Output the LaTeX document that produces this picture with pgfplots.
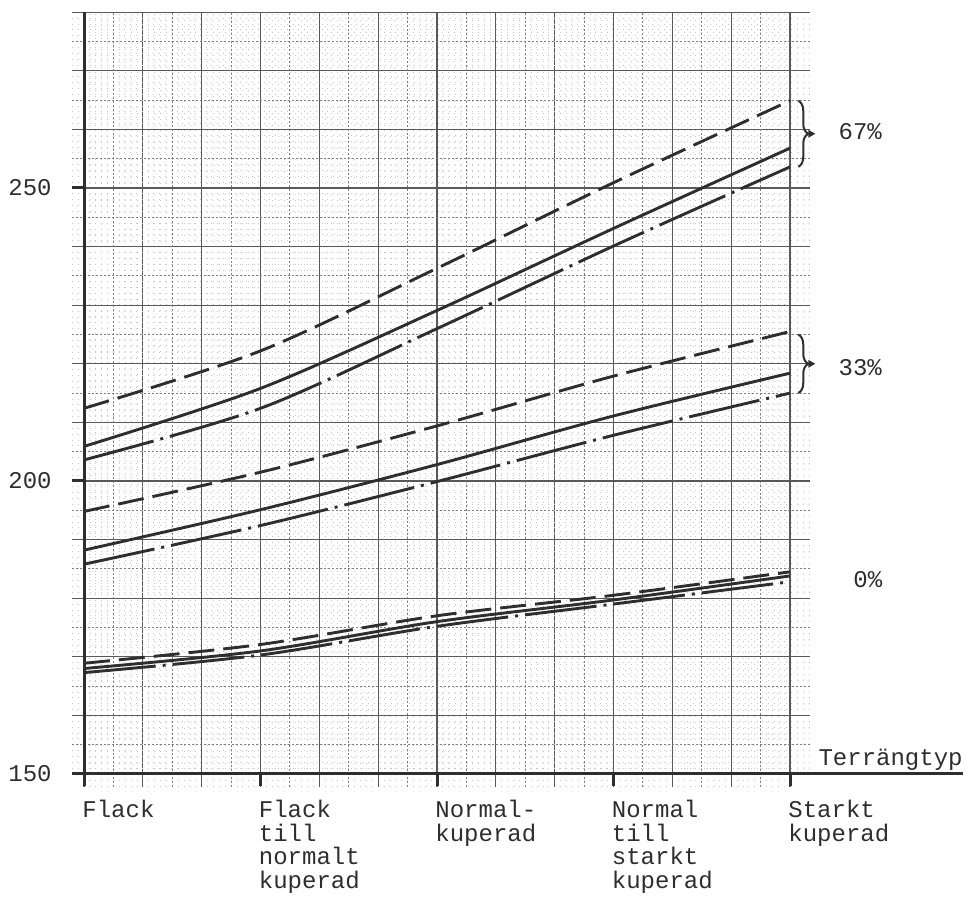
\documentclass[border=0pt]{standalone}
\usepackage{fontspec}
\setmainfont{Liberation Mono}
\usepackage{pgfplots}
\pgfplotsset{compat=1.18}
\usetikzlibrary{decorations.pathreplacing,arrows.meta}
\definecolor{ink}{HTML}{2E2E2E}
\newcommand{\lblfont}{\fontsize{12}{11.8}\selectfont}
\begin{document}
\begin{tikzpicture}
\useasboundingbox (-42pt,-61.5pt) rectangle (441.5pt,387pt);
% ---------- graph paper ----------
\begin{axis}[
  at={(-5.883pt,-6.446pt)}, anchor=south west,
  x=29.417pt, y=2.93pt,
  xmin=-0.2, xmax=12.34, ymin=147.8, ymax=280,
  enlargelimits=false,
  axis line style={draw=none},
  xtick={0,1,...,12}, ytick={150,160,...,280},
  minor x tick num=9, minor y tick num=9,
  xticklabels={}, yticklabels={},
  major tick length=0pt, minor tick length=0pt,
  grid=both,
  major grid style={black!65, line width=0.55pt},
  minor grid style={black!22, line width=0.4pt, dash pattern=on 0.5pt off 2.4pt},
  extra x ticks={0.5,1.5,...,11.5},
  extra y ticks={155,165,...,275},
  extra x tick labels={}, extra y tick labels={},
  extra tick style={grid=major, major tick length=0pt,
     major grid style={black!50, line width=0.5pt, dash pattern=on 0.7pt off 1.3pt}},
]
\end{axis}
% ---------- data ----------
\begin{axis}[
  at={(0pt,0pt)}, anchor=south west,
  x=29.417pt, y=2.93pt,
  xmin=0, xmax=14.94, ymin=150, ymax=280,
  enlargelimits=false,
  clip=false,
  axis x line=bottom, axis y line=left,
  axis line style={-, line width=1.5pt, ink},
  xtick={0,3,6,9,12},
  xticklabels={Flack, Flack\\till\\normalt\\kuperad, Normal-\\kuperad, Normal\\till\\starkt\\kuperad, Starkt\\kuperad},
  ytick={150,200,250},
  minor tick num=0,
  tick align=outside,
  major tick length=6pt,
  tick style={line width=1.5pt, ink},
  /pgf/number format/assume math mode=true,
  tick label style={font=\lblfont, text=ink},
  xticklabel style={anchor=north west, align=left, inner sep=0pt, yshift=-7pt, xshift=-1pt},
  yticklabel style={anchor=east, inner sep=0pt, xshift=-10pt},
  every axis plot/.append style={line width=1.45pt, ink, no marks, smooth},
]
% 0 %
\addplot[dash pattern=on 13pt off 4.5pt] coordinates {(0,168.9) (3,172.1) (6,177.0) (9,180.5) (12,184.5)};
\addplot[] coordinates {(0,168.0) (3,171.0) (6,176.0) (9,179.7) (12,183.8)};
\addplot[dash pattern=on 36pt off 3.5pt on 1.5pt off 3.5pt] coordinates {(0,167.3) (3,170.3) (6,175.2) (9,179.0) (12,182.8)};
% 33 %
\addplot[dash pattern=on 13pt off 4.5pt] coordinates {(0,194.8) (3,201.5) (6,209.4) (9,217.9) (12,225.5)};
\addplot[] coordinates {(0,188.2) (3,195.1) (6,202.8) (9,211.1) (12,218.4)};
\addplot[dash pattern=on 36pt off 3.5pt on 1.5pt off 3.5pt] coordinates {(0,185.8) (3,192.4) (6,199.9) (9,207.8) (12,215.0)};
% 67 %
\addplot[dash pattern=on 13pt off 4.5pt] coordinates {(0,212.4) (3,222.2) (6,236.3) (9,250.9) (12,264.9)};
\addplot[] coordinates {(0,205.9) (3,215.8) (6,229.1) (9,243.1) (12,256.8)};
\addplot[dash pattern=on 36pt off 3.5pt on 1.5pt off 3.5pt] coordinates {(0,203.6) (3,212.4) (6,226.0) (9,240.1) (12,253.6)};
% annotations
\draw[ink, line width=1pt, decorate, decoration={brace, amplitude=5pt}] (axis cs:12.14,264.9) -- (axis cs:12.14,253.6);
\fill[ink] ([xshift=8.5pt]axis cs:12.14,259.25) -- ++(-3.5pt,2pt) -- ++(0pt,-4pt) -- cycle;
\draw[ink, line width=1pt, decorate, decoration={brace, amplitude=5pt}] (axis cs:12.14,225.0) -- (axis cs:12.14,215.0);
\fill[ink] ([xshift=8.5pt]axis cs:12.14,220.0) -- ++(-3.5pt,2pt) -- ++(0pt,-4pt) -- cycle;
\node[anchor=west, inner sep=0pt, font=\lblfont, text=ink] at (axis cs:12.82,259.6) {67\%};
\node[anchor=west, inner sep=0pt, font=\lblfont, text=ink] at (axis cs:12.82,219.3) {33\%};
\node[anchor=west, inner sep=0pt, font=\lblfont, text=ink] at (axis cs:13.07,183.1) {0\%};
\node[anchor=base east, inner sep=0pt, font=\lblfont, text=ink] at (axis cs:14.94,151.4) {Terrängtyp};
\end{axis}
\end{tikzpicture}
\end{document}
